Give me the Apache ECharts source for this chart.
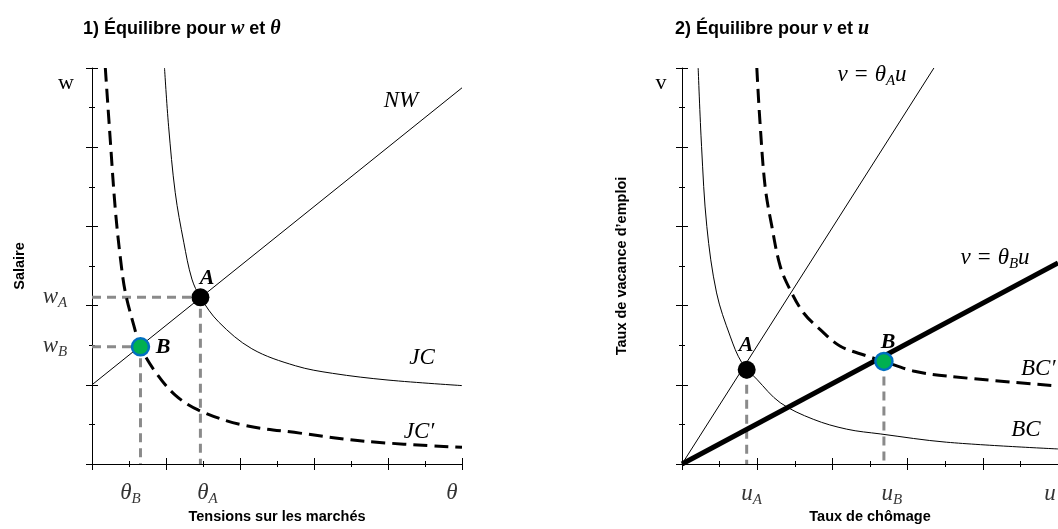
<!DOCTYPE html>
<html><head><meta charset="utf-8">
<script src="https://cdn.jsdelivr.net/npm/echarts@6/dist/echarts.min.js"></script>
<style>html,body{margin:0;padding:0;background:#fff}#c{width:1058px;height:529px}</style>
</head><body><div id="c"></div>
<script>
// ---------- Panel 1 : w vs theta ----------
const nwLine = [[0, 2.0], [10, 9.5]];
const jcCurve = [[1.96,10.0],[2.07,8.53],[2.25,6.85],[2.48,5.6],[2.70,4.67],[2.93,4.21],[3.42,3.59],[4.32,2.91],[5.5,2.48],[6.5,2.29],[8.0,2.12],[10,1.98]];
const jcPrimeCurve = [[0.36,10.0],[0.50,8.1],[0.63,6.43],[0.77,5.18],[0.90,4.34],[1.13,3.5],[1.31,2.96],[1.71,2.33],[2.25,1.74],[2.88,1.36],[4.05,0.99],[5.62,0.78],[7.42,0.57],[10,0.42]];
const pointA1 = [2.93, 4.21];
const pointB1 = [1.31, 2.96];
const thetaTickLabels = [['θ','B'], ['θ','A'], ['θ','']];
const wTickLabels = [['w','A'], ['w','B']];

// ---------- Panel 2 : v vs u ----------
const thetaALine = [[0, 0], [6.7, 10]];
const thetaBLine = [[0, 0], [10, 5.08]];
const bcCurve = [[0.43,10],[0.52,8.02],[0.66,6.0],[0.92,4.32],[1.28,3.23],[1.59,2.56],[1.99,2.14],[2.61,1.55],[3.49,1.13],[4.38,0.88],[5.27,0.76],[7.04,0.55],[10,0.38]];
const bcPrimeCurve = [[1.99,10],[2.07,8.69],[2.21,7.01],[2.39,6.0],[2.61,5.0],[2.87,4.41],[3.23,3.82],[3.67,3.40],[4.2,2.98],[4.91,2.73],[5.37,2.59],[6.15,2.35],[7.04,2.22],[10,1.97]];
const pointA2 = [1.72, 2.38];
const pointB2 = [5.37, 2.59];
const uTickLabels = [['u','A'], ['u','B'], ['u','']];

const MATH = 'Liberation Serif';
const SANS = 'Liberation Sans';
const rich = {
  m:  {fontFamily: MATH, fontStyle: 'italic', fontSize: 23, color: '#000'},
  s:  {fontFamily: MATH, fontStyle: 'italic', fontSize: 15, color: '#000', padding: [12,0,0,0]},
  bi: {fontFamily: MATH, fontStyle: 'italic', fontWeight: 'bold', fontSize: 22, color: '#000'},
  b:  {fontFamily: SANS, fontWeight: 'bold', fontSize: 18, color: '#000'},
  t:  {fontFamily: MATH, fontStyle: 'italic', fontSize: 20, color: '#000'}
};
const sub = (m, s) => s ? `{m|${m}}{s|${s}}` : `{m|${m}}`;

function axis(gridIndex, inside, isX, name, nameGap, rotate) {
  return {
    type: 'value', gridIndex, min: 0, max: 10, interval: 2,
    position: isX ? 'bottom' : 'left',
    axisLine: {show: !inside, onZero: false, lineStyle: {color: '#000', width: 1}},
    axisTick: {show: true, inside, length: 6, lineStyle: {color: '#000', width: 1}},
    minorTick: {show: true, splitNumber: 2, length: 3, lineStyle: {color: '#000', width: 1}},
    axisLabel: {show: false}, splitLine: {show: false}, minorSplitLine: {show: false},
    name: inside ? '' : name, nameLocation: 'middle', nameGap, nameRotate: rotate,
    nameTextStyle: {fontFamily: SANS, fontWeight: 'bold', fontSize: 14.5, color: '#000'}
  };
}

const grey = {color: '#8a8a8a', width: 3, type: [9, 6]};
function line(xi, data, style, smooth, z) {
  return {type: 'line', xAxisIndex: xi, yAxisIndex: xi, data, symbol: 'none', smooth: smooth || false,
    lineStyle: style, silent: true, z: z || 2, animation: false};
}
function marker(xi, pt, kind) {
  const st = kind === 'A' ? {color: '#000', opacity: 1} : {color: '#00b050', borderColor: '#0070c0', borderWidth: 2.5, opacity: 1};
  return {type: 'scatter', xAxisIndex: xi, yAxisIndex: xi, data: [pt], symbol: 'circle',
    symbolSize: kind === 'A' ? 18 : 17, itemStyle: st, z: 5, silent: true, animation: false};
}
function tickLabels(xi, pts, labels, offsets, axisIsX) {
  return {type: 'scatter', xAxisIndex: xi, yAxisIndex: xi, symbolSize: 0, silent: true, animation: false,
    data: pts.map((p, i) => ({value: axisIsX ? [p, 0] : [0, p],
      label: {show: true, position: 'inside', offset: offsets[i], formatter: sub(labels[i][0], labels[i][1]), rich}}))};
}

const thetaTickValues = [pointB1[0], pointA1[0], 10];
const wTickValues = [pointA1[1], pointB1[1]];
const uTickValues = [pointA2[0], pointB2[0], 10];

const option = {
  animation: false,
  title: [
    {left: 78, top: 14, text: '{b|1) Équilibre pour }{t|w}{b| et }{t|θ}', textStyle: {rich}},
    {left: 670, top: 14, text: '{b|2) Équilibre pour }{t|v}{b| et }{t|u}', textStyle: {rich}}
  ],
  grid: [
    {left: 92, top: 68, width: 370, height: 398},
    {left: 682, top: 68, width: 376, height: 397}
  ],
  xAxis: [
    axis(0, false, true, 'Tensions sur les marchés', 45), axis(0, true, true),
    axis(1, false, true, 'Taux de chômage', 45), axis(1, true, true)
  ],
  yAxis: [
    axis(0, false, false, 'Salaire', 65, 90), axis(0, true, false),
    axis(1, false, false, 'Taux de vacance d’emploi', 53, 90), axis(1, true, false)
  ],
  series: [
    // panel 1
    line(0, [[0, pointA1[1]], pointA1, [pointA1[0], 0]], grey, false, 1),
    line(0, [[0, pointB1[1]], pointB1, [pointB1[0], 0]], grey, false, 1),
    line(0, nwLine, {color: '#000', width: 1}),
    line(0, jcCurve, {color: '#000', width: 1}, 0.35),
    line(0, jcPrimeCurve, {color: '#000', width: 3, type: [14, 7]}, 0.35),
    marker(0, pointA1, 'A'), marker(0, pointB1, 'B'),
    tickLabels(0, thetaTickValues, thetaTickLabels, [[-10, 29], [7, 29], [-10, 29]], true),
    tickLabels(0, wTickValues, wTickLabels, [[-37, 0], [-37, -1]], false),
    // panel 2
    line(2, [pointA2, [pointA2[0], 0]], grey, false, 1),
    line(2, [pointB2, [pointB2[0], 0]], grey, false, 1),
    line(2, thetaALine, {color: '#000', width: 1}),
    line(2, thetaBLine, {color: '#000', width: 5}),
    line(2, bcCurve, {color: '#000', width: 1}, 0.35),
    line(2, bcPrimeCurve, {color: '#000', width: 3, type: [14, 7]}, 0.35),
    marker(2, pointA2, 'A'), marker(2, pointB2, 'B'),
    tickLabels(2, uTickValues, uTickLabels, [[5, 30], [8, 30], [-8, 30]], true)
  ],
  graphic: [
    {type: 'text', x: 66, y: 83, style: {text: 'w', font: '22px "Liberation Serif"', fill: '#000', align: 'center', verticalAlign: 'middle'}},
    {type: 'text', x: 661, y: 83, style: {text: 'v', font: '22px "Liberation Serif"', fill: '#000', align: 'center', verticalAlign: 'middle'}},
    {type: 'text', x: 401, y: 101, style: {text: '{m|NW}', rich, align: 'center', verticalAlign: 'middle'}},
    {type: 'text', x: 422, y: 358, style: {text: '{m|JC}', rich, align: 'center', verticalAlign: 'middle'}},
    {type: 'text', x: 419, y: 432, style: {text: '{m|JC′}', rich, align: 'center', verticalAlign: 'middle'}},
    {type: 'text', x: 207, y: 278, style: {text: '{bi|A}', rich, align: 'center', verticalAlign: 'middle'}},
    {type: 'text', x: 163, y: 347, style: {text: '{bi|B}', rich, align: 'center', verticalAlign: 'middle'}},
    {type: 'text', x: 872, y: 75, style: {text: '{m|v = θ}{s|A}{m|u}', rich, align: 'center', verticalAlign: 'middle'}},
    {type: 'text', x: 995, y: 258, style: {text: '{m|v = θ}{s|B}{m|u}', rich, align: 'center', verticalAlign: 'middle'}},
    {type: 'text', x: 1021, y: 369, style: {text: '{m|BC′}', rich, align: 'left', verticalAlign: 'middle'}},
    {type: 'text', x: 1026, y: 430, style: {text: '{m|BC}', rich, align: 'center', verticalAlign: 'middle'}},
    {type: 'text', x: 746, y: 345, style: {text: '{bi|A}', rich, align: 'center', verticalAlign: 'middle'}},
    {type: 'text', x: 888, y: 342, style: {text: '{bi|B}', rich, align: 'center', verticalAlign: 'middle'}}
  ]
};
const chart = echarts.init(document.getElementById('c'), null, {renderer: 'canvas'});
chart.setOption(option);
</script>
</body></html>
